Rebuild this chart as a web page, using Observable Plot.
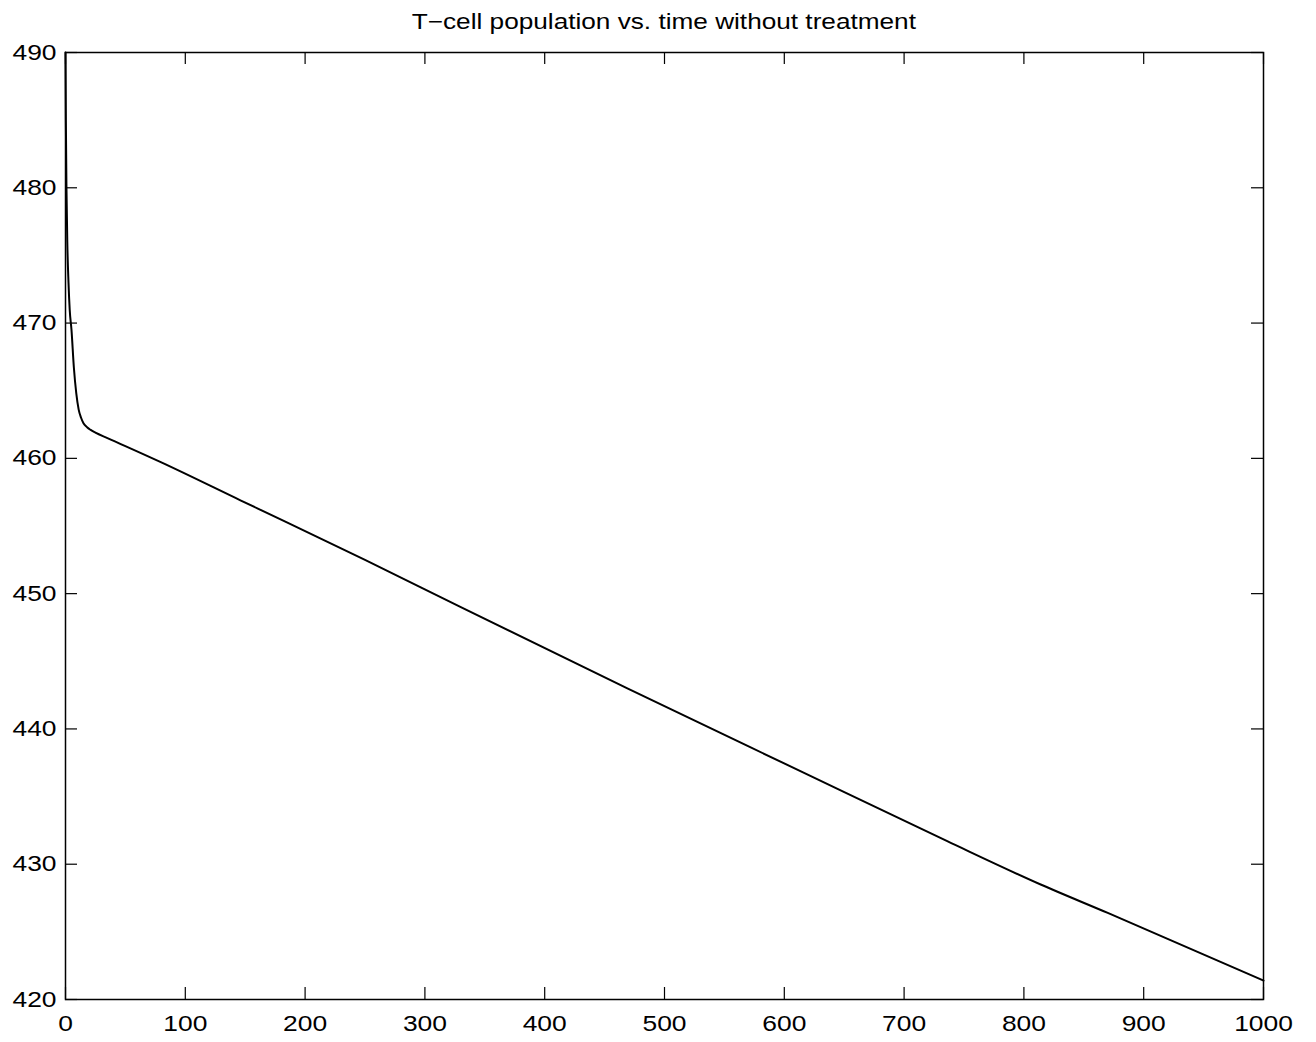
<!DOCTYPE html>
<html>
<head>
<meta charset="utf-8">
<script src="https://cdn.jsdelivr.net/npm/d3@7"></script>
<script src="https://cdn.jsdelivr.net/npm/@observablehq/plot@0.6"></script>
<style>
  body { margin: 0; background: #fff; font-family: "Liberation Sans", Arial, Helvetica, sans-serif; }
  #wrap { width: 1316px; height: 1042px; position: relative; }
  #title { position: absolute; left: 65px; width: 1198px; top: 10px; text-align: center; font-size: 22px; color: #000; line-height: 24px; }
  #title span { display: inline-block; transform: scaleX(1.19); transform-origin: center; }
  #chart { position: absolute; left: 0; top: 40px; }
</style>
</head>
<body>
<div id="wrap">
  <div id="title"><span>T−cell population vs. time without treatment</span></div>
  <div id="chart"></div>
</div>
<script>
const time = [0, 0.3, 0.8, 1.5, 2.5, 3.5, 5, 7, 9, 11, 13, 15, 18, 21, 25, 35, 80, 146, 250, 330, 469, 613, 736, 814, 870, 1000];
const tcells = [490, 485, 480, 476, 473, 471, 469.5, 466.7, 464.8, 463.6, 463.0, 462.6, 462.3, 462.1, 461.9, 461.5, 459.7, 456.9, 452.5, 449.0, 443.0, 436.9, 431.7, 428.5, 426.4, 421.4];
const xTicks = [0, 100, 200, 300, 400, 500, 600, 700, 800, 900, 1000];
const yTicks = [420, 430, 440, 450, 460, 470, 480, 490];

const data = time.map((t, i) => ({t, v: tcells[i]}));

const W = 1316, H = 1002;
const mL = 65, mR = 53, mT = 12, mB = 43;
const fw = W - mL - mR, fh = H - mT - mB;
const tl = 12;

const plot = Plot.plot({
  width: W, height: H,
  marginLeft: mL, marginRight: mR, marginTop: mT, marginBottom: mB,
  style: {fontFamily: '"Liberation Sans", Arial, Helvetica, sans-serif', fontSize: "22px", color: "#000", background: "#fff", overflow: "visible"},
  x: {domain: [0, 1000]},
  y: {domain: [420, 490]},
  marks: [
    Plot.axisX(xTicks, {tickSize: 0, tickPadding: 16, label: null, fontSize: 22, tickFormat: d => String(d)}),
    Plot.axisY(yTicks, {tickSize: 0, tickPadding: 9, label: null, fontSize: 22, tickFormat: d => String(d)}),
    Plot.ruleX(xTicks, {x: d => d, insetTop: fh - tl, stroke: "#000", strokeWidth: 1.2}),
    Plot.ruleX(xTicks, {x: d => d, insetBottom: fh - tl, stroke: "#000", strokeWidth: 1.2}),
    Plot.ruleY(yTicks, {y: d => d, insetRight: fw - tl, stroke: "#000", strokeWidth: 1.2}),
    Plot.ruleY(yTicks, {y: d => d, insetLeft: fw - tl, stroke: "#000", strokeWidth: 1.2}),
    Plot.frame({stroke: "#000", strokeWidth: 1.5}),
    Plot.line(data, {x: "t", y: "v", stroke: "#000", strokeWidth: 2, curve: "monotone-x"})
  ]
});
// widen tick label glyphs horizontally, as in the reference
plot.querySelectorAll('g[aria-label="x-axis tick label"] text, g[aria-label="y-axis tick label"] text').forEach(t => {
  const tr = t.getAttribute("transform") || "";
  t.setAttribute("transform", tr + " scale(1.2,1)");
});
document.getElementById("chart").appendChild(plot);
</script>
</body>
</html>
